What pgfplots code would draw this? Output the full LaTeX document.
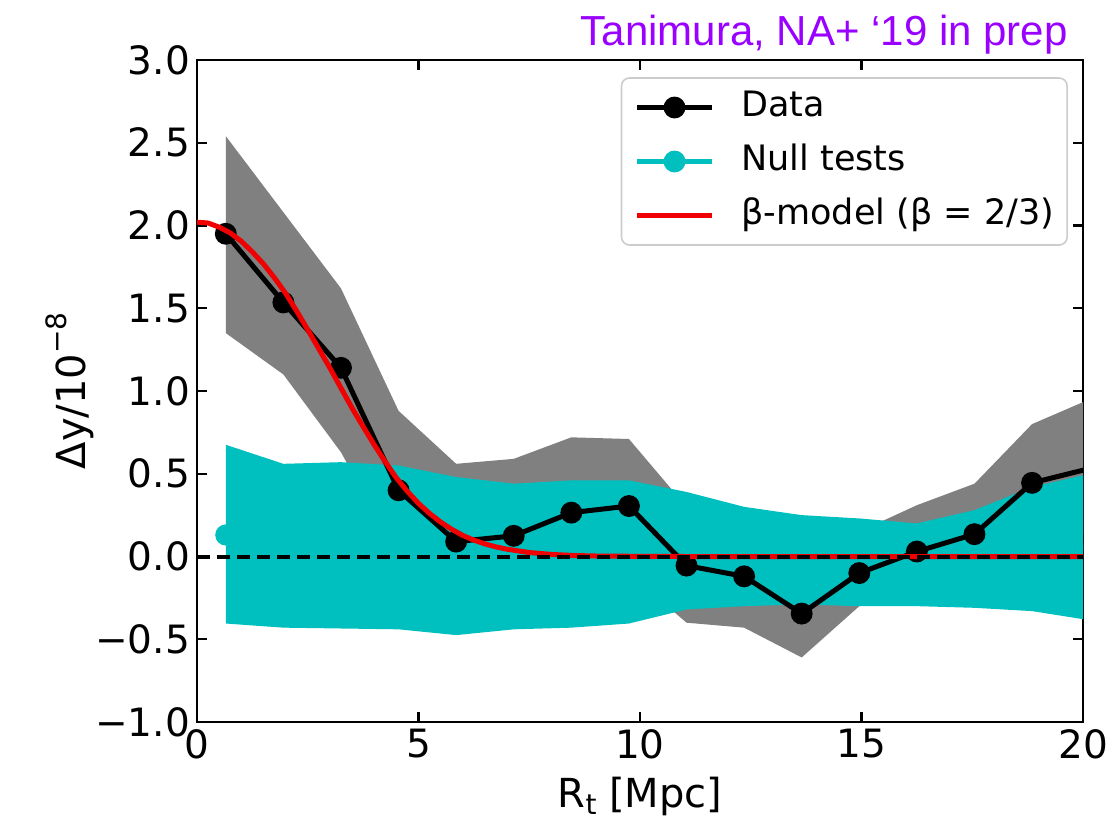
\documentclass[border=0pt]{standalone}
\usepackage{fontspec}
\setmainfont{DejaVu Sans}
\newfontfamily\arialfont{Liberation Sans}
\usepackage{pgfplots}
\pgfplotsset{compat=1.18}
\definecolor{cyanband}{HTML}{00BFBF}
\definecolor{grayband}{HTML}{808080}
\definecolor{titlepurple}{HTML}{9900FF}
\definecolor{legframe}{HTML}{CCCCCC}
\definecolor{modelred}{HTML}{F00000}
\begin{document}
\begin{tikzpicture}
\path[use as bounding box] (-98.5pt,-48.5pt) rectangle (460pt,361pt);
\begin{axis}[
  at={(0pt,0pt)}, anchor=south west,
  scale only axis, width=443pt, height=331pt,
  xmin=0, xmax=20, ymin=-1, ymax=3,
  xtick={0,5,10,15,20}, xticklabels={0,5,10,15,20},
  ytick={-1,-0.5,0,0.5,1,1.5,2,2.5,3},
  yticklabels={−1.0,−0.5,0.0,0.5,1.0,1.5,2.0,2.5,3.0},
  tick align=inside, tick pos=both, major tick length=5pt,
  tick style={black, line width=1.1pt},
  axis line style={line width=1.2pt},
  ticklabel style={font=\fontsize{19.5}{22}\selectfont},
  clip marker paths=true,
  every axis x label/.style={at={(axis description cs:0.5,-0.1284)}, anchor=base, font=\fontsize{20}{24}\selectfont},
  every axis y label/.style={at={(axis description cs:-0.1433,0.5)}, anchor=center, rotate=90, font=\fontsize{20}{24}\selectfont},
  xlabel={R\raisebox{-0.35ex}{\fontsize{14}{16}\selectfont t} [Mpc]},
  ylabel={Δy/10\raisebox{0.85ex}{\fontsize{14}{16}\selectfont −8}},
  legend style={at={(axis description cs:0.983,0.974)}, anchor=north east,
    draw=legframe, line width=0.8pt, rounded corners=4pt, fill=white,
    font=\fontsize{17.5}{20}\selectfont, inner xsep=6.5pt, inner ysep=6.25pt,
    row sep=10pt, nodes={inner sep=0pt, text height=13pt, text depth=4pt},
    /tikz/every odd column/.append style={column sep=13.5pt}},
  legend cell align=left,
  legend image code/.code={\draw[mark repeat=2,mark phase=2,#1] plot coordinates {(0pt,0pt) (18.75pt,0pt) (37.5pt,0pt)};},
]
% null tests (mostly hidden under band)
\addplot[draw=cyanband, line width=2.5pt, mark=*, mark size=4pt, mark options={fill=cyanband, draw=cyanband}, forget plot] coordinates {
(0.65,0.13) (1.95,0.065) (3.25,0.068) (4.55,0.055) (5.85,0.0) (7.15,0.0) (8.45,0.015) (9.75,0.028) (11.05,0.035) (12.35,0.0) (13.65,-0.02) (14.95,-0.035) (16.25,-0.05) (17.55,-0.015) (18.85,0.045) (20.15,0.06)};
% data error band
\addplot[fill=grayband, draw=none, forget plot] coordinates {
(0.65,2.54) (1.95,2.08) (3.25,1.62) (4.55,0.88) (5.85,0.56) (7.15,0.59) (8.45,0.72) (9.75,0.71) (11.05,0.30) (12.35,0.20) (13.65,-0.05) (14.95,0.15) (16.25,0.31) (17.55,0.44) (18.85,0.80) (20.15,0.95)
(20.15,0.15) (18.85,0.05) (17.55,-0.15) (16.25,-0.25) (14.95,-0.30) (13.65,-0.61) (12.35,-0.43) (11.05,-0.40) (9.75,-0.10) (8.45,-0.12) (7.15,-0.15) (5.85,-0.2) (4.55,0.0) (3.25,0.63) (1.95,1.10) (0.65,1.35)} -- cycle;
% null band
\addplot[fill=cyanband, draw=none, forget plot] coordinates {
(0.65,0.675) (1.95,0.56) (3.25,0.57) (4.55,0.55) (5.85,0.48) (7.15,0.44) (8.45,0.46) (9.75,0.46) (11.05,0.39) (12.35,0.30) (13.65,0.25) (14.95,0.23) (16.25,0.20) (17.55,0.28) (18.85,0.42) (20.15,0.50)
(20.15,-0.385) (18.85,-0.33) (17.55,-0.31) (16.25,-0.30) (14.95,-0.30) (13.65,-0.29) (12.35,-0.30) (11.05,-0.32) (9.75,-0.405) (8.45,-0.43) (7.15,-0.44) (5.85,-0.475) (4.55,-0.44) (3.25,-0.435) (1.95,-0.43) (0.65,-0.405)} -- cycle;
% data
\addplot[black, line width=2.5pt, mark=*, mark size=4.2pt, mark options={fill=black}, forget plot] coordinates {
(0.65,1.95) (1.95,1.535) (3.25,1.14) (4.55,0.40) (5.85,0.09) (7.15,0.125) (8.45,0.265) (9.75,0.305) (11.05,-0.055) (12.35,-0.12) (13.65,-0.345) (14.95,-0.10) (16.25,0.03) (17.55,0.135) (18.85,0.445) (20.13,0.53)};
% beta model
\addplot[modelred, line width=2.5pt, forget plot] coordinates {
(0,2.02) (0.25,2.015) (0.5,1.99) (0.75,1.955) (1.0,1.905) (1.25,1.84) (1.5,1.768) (1.75,1.683) (2.0,1.59) (2.25,1.483) (2.5,1.37) (2.75,1.255) (3.0,1.139) (3.25,1.018) (3.5,0.897) (3.75,0.785) (4.0,0.675) (4.25,0.572) (4.5,0.475) (4.75,0.393) (5.0,0.321) (5.25,0.26) (5.5,0.208) (5.75,0.164) (6.0,0.127) (6.25,0.099) (6.5,0.076) (6.75,0.058) (7.0,0.044) (7.5,0.024) (8.0,0.0125) (8.5,0.006) (9.0,0.003) (10,0.001) (11,0) (20,0)};
% zero line
\addplot[black, line width=2pt, dash pattern=on 6.5pt off 3.5pt, forget plot] coordinates {(0,0) (20,0)};
% legend
\addlegendimage{black, line width=2.5pt, mark=*, mark size=4.2pt, mark options={fill=black}}
\addlegendentry{Data}
\addlegendimage{cyanband, line width=2.5pt, mark=*, mark size=4.2pt, mark options={fill=cyanband}}
\addlegendentry{Null tests}
\addlegendimage{modelred, line width=2.5pt}
\addlegendentry{β-model (β = 2/3)}
\end{axis}
\node[anchor=base east, text=titlepurple, font=\arialfont\fontsize{21}{24}\selectfont, inner sep=0pt] at (435.5pt,338pt) {Tanimura, NA+ ‘19 in prep};
\end{tikzpicture}
\end{document}
